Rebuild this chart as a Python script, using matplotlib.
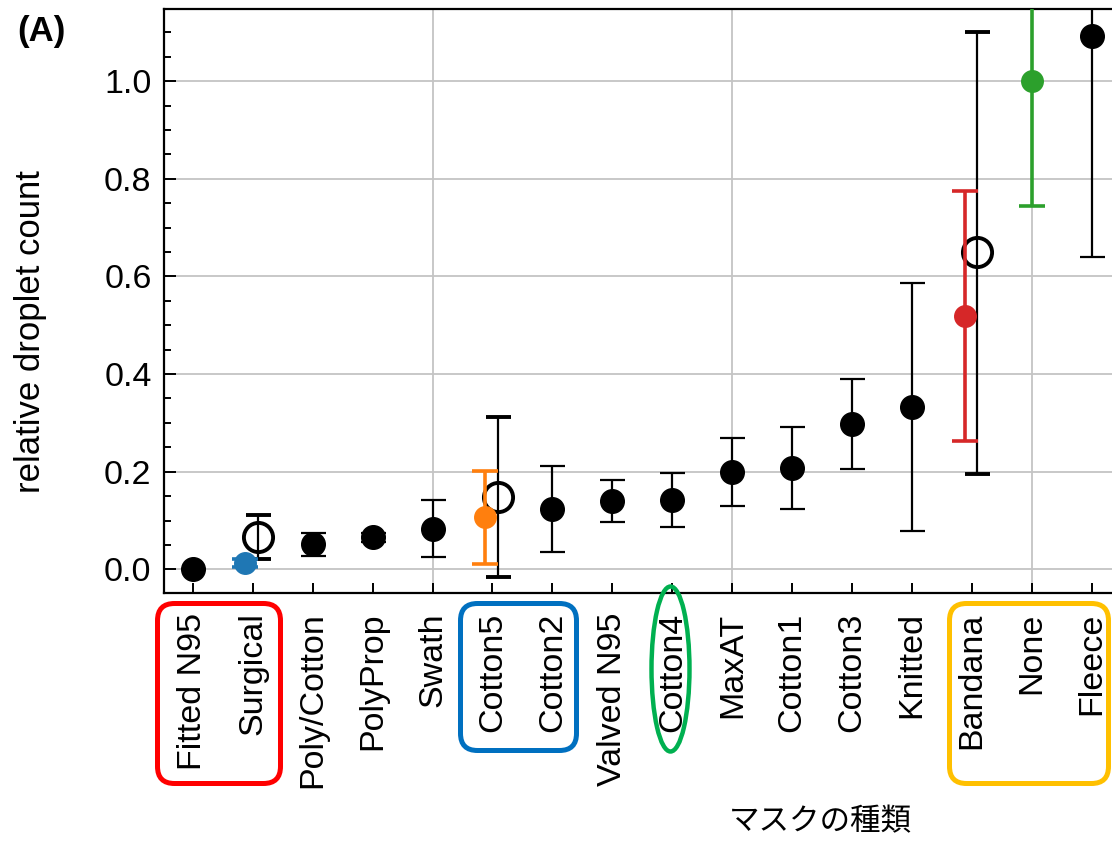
import matplotlib
matplotlib.use("Agg")
import matplotlib.pyplot as plt
from matplotlib.patches import FancyBboxPatch, Ellipse
from matplotlib.ticker import MultipleLocator
import numpy as np

plt.rcParams['font.family'] = ['Liberation Sans', 'DejaVu Sans']

categories = ["Fitted N95", "Surgical", "Poly/Cotton", "PolyProp", "Swath", "Cotton5",
              "Cotton2", "Valved N95", "Cotton4", "MaxAT", "Cotton1", "Cotton3",
              "Knitted", "Bandana", "None", "Fleece"]

# filled black points
black_idx = [0, 2, 3, 4, 6, 7, 8, 9, 10, 11, 12, 15]
black_val = [0.000, 0.052, 0.066, 0.083, 0.124, 0.140, 0.142, 0.200, 0.208, 0.298, 0.333, 1.092]
black_lo = [0.000, 0.028, 0.057, 0.026, 0.036, 0.097, 0.087, 0.130, 0.124, 0.206, 0.079, 0.640]
black_hi = [0.000, 0.075, 0.075, 0.142, 0.212, 0.183, 0.197, 0.270, 0.292, 0.390, 0.586, 1.550]

# open circles
open_idx = [1, 5, 13]
open_val = [0.067, 0.148, 0.650]
open_lo = [0.021, -0.015, 0.195]
open_hi = [0.111, 0.312, 1.100]

# coloured points
col_idx = [1, 5, 13, 14]
col_val = [0.013, 0.107, 0.518, 1.000]
col_lo = [0.005, 0.011, 0.263, 0.745]
col_hi = [0.021, 0.201, 0.775, 1.260]
col_colors = ["#1f77b4", "#ff7f0e", "#d62728", "#2ca02c"]
col_offset = [-0.12, -0.12, -0.12, 0.0]
open_offset = 0.09

W, H = 1112, 843
fig = plt.figure(figsize=(W / 100, H / 100), dpi=100)
ax_l, ax_r, ax_t, ax_b = 164, 1112, 9, 593
ax = fig.add_axes([ax_l / W, 1 - ax_b / H, (ax_r - ax_l) / W, (ax_b - ax_t) / H])

x0_px, dx_px = 192.7, 59.95
ax.set_xlim((ax_l - x0_px) / dx_px, (ax_r - x0_px) / dx_px)
y0_px, dy_px = 569.4, 488.3
ax.set_ylim((y0_px - ax_b) / dy_px, (y0_px - ax_t) / dy_px)

# grid
for yv in [0.0, 0.2, 0.4, 0.6, 0.8, 1.0]:
    ax.axhline(yv, color="#c4c4c4", lw=1.3, zorder=0)
for xv in [4, 9, 14]:
    ax.axvline(xv, color="#c4c4c4", lw=1.3, zorder=0)

# black filled
bv = np.array(black_val)
ax.errorbar(black_idx, bv, yerr=[bv - np.array(black_lo), np.array(black_hi) - bv],
            fmt='o', color='black', ms=17, lw=1.6, capsize=9, capthick=1.6, zorder=3)

# open circles
ov = np.array(open_val)
ax.errorbar(np.array(open_idx) + open_offset, ov, yerr=[ov - np.array(open_lo), np.array(open_hi) - ov],
            fmt='o', mfc='none', mec='black', mew=2.8, color='black', ms=21, lw=1.6,
            capsize=9, capthick=1.6, zorder=4)

# coloured
for i, v, lo, hi, c, off in zip(col_idx, col_val, col_lo, col_hi, col_colors, col_offset):
    ax.errorbar([i + off], [v], yerr=[[v - lo], [hi - v]], fmt='o', color=c, ms=15.5,
                lw=2.6, capsize=9.5, capthick=2.6, zorder=5)

ax.set_xticks(range(len(categories)))
ax.set_xticklabels(categories, rotation=90, fontsize=24.5)
ax.yaxis.set_minor_locator(MultipleLocator(0.05))
ax.set_yticks([0.0, 0.2, 0.4, 0.6, 0.8, 1.0])
ax.set_yticklabels(["0.0", "0.2", "0.4", "0.6", "0.8", "1.0"], fontsize=24.5)
ax.tick_params(axis='x', direction='in', length=7.5, width=1.4, pad=14)
ax.tick_params(axis='y', which='major', direction='in', length=8.5, width=1.4, pad=9)
ax.tick_params(axis='y', which='minor', direction='in', length=5, width=1.4)
for s in ['left', 'bottom', 'top']:
    ax.spines[s].set_linewidth(1.6)
ax.spines['right'].set_visible(False)

fig.text(31 / W, 1 - 332 / H, "relative droplet count", rotation=90, ha='center', va='center', fontsize=25)
fig.text(41 / W, 1 - 32 / H, "(A)", ha='center', va='center', fontsize=25, fontweight='bold')
fig.text(820 / W, 1 - 822 / H, "マスクの種類", ha='center', va='center', fontsize=22,
         family=['Noto Sans CJK JP', 'DejaVu Sans'])

# annotation shapes (pixel based, in inches)
def box(x1, y1, x2, y2, color, lw=3.6, r=0.17):
    p = FancyBboxPatch((x1 / 100, (H - y2) / 100), (x2 - x1) / 100, (y2 - y1) / 100,
                       boxstyle=f"round,pad=0,rounding_size={r}", transform=fig.dpi_scale_trans,
                       fill=False, edgecolor=color, lw=lw, clip_on=False)
    fig.add_artist(p)

box(157.5, 603.5, 280.5, 783.5, "#ff0000")
box(460.5, 603.5, 576.5, 750.5, "#0070c0")
box(949.5, 603.5, 1108.5, 783.5, "#ffc000")
e = Ellipse((670.5 / 100, (H - 669) / 100), 38 / 100, 165 / 100, transform=fig.dpi_scale_trans,
            fill=False, edgecolor="#00b050", lw=3.2, clip_on=False)
fig.add_artist(e)

fig.savefig("out.png", dpi=100)
